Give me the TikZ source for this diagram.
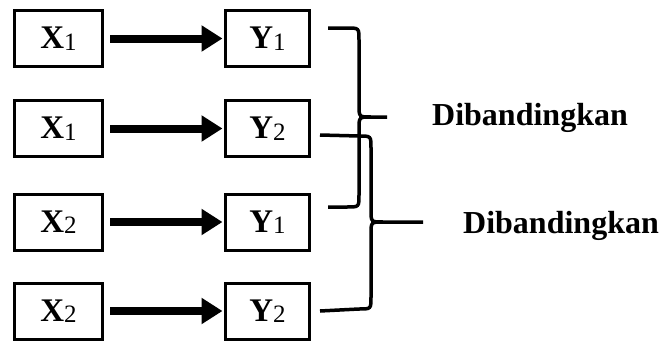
\documentclass[tikz,border=0pt]{standalone}
\usepackage{fontspec}
\setmainfont{Liberation Serif}
\usetikzlibrary{arrows.meta}
\tikzset{
  varbox/.style={draw=black,line width=3pt,inner sep=0pt,minimum height=56pt,font=\fontsize{33}{36}\selectfont\bfseries},
  xbox/.style={varbox,minimum width=88pt},
  ybox/.style={varbox,minimum width=84pt},
  flow/.style={line width=8pt,-{Triangle[length=21pt,width=25pt]},shorten <=6pt,shorten >=1.5pt},
  brace/.style={line width=3.5pt},
  compare/.style={inner sep=0pt,anchor=base west,font=\fontsize{32}{36}\selectfont\bfseries}
}
\newcommand{\Var}[2]{#1\raisebox{-1.5pt}{\fontsize{25}{25}\selectfont\mdseries #2}}

\begin{document}
\begin{tikzpicture}[x=1pt,y=-1pt]
\useasboundingbox (0,0) rectangle (662,343);
% \draw[help lines,step=20] (0,0) grid (662,343);
\node (x1) [xbox] at (58.5,38.5) {\Var{X}{1}};
\node (y1) [ybox] at (267.5,38.5) {\Var{Y}{1}};
\node (x2) [xbox] at (58.5,128.5) {\Var{X}{1}};
\node (y2) [ybox] at (267.5,128.5) {\Var{Y}{2}};
\node (x3) [xbox] at (58.5,222) {\Var{X}{2}};
\node (y3) [ybox] at (267.5,222) {\Var{Y}{1}};
\node (x4) [xbox] at (58.5,311) {\Var{X}{2}};
\node (y4) [ybox] at (267.5,311) {\Var{Y}{2}};
%
\draw[flow] (x1) -- (y1);
\draw[flow] (x2) -- (y2);
\draw[flow] (x3) -- (y3);
\draw[flow] (x4) -- (y4);
%
\node (d1) [compare] at (432,125) {Dibandingkan};
\node (d2) [compare] at (463,233) {Dibandingkan};
%
\coordinate (b1top) at (328,28);
\coordinate (b1tip) at (387,117);
\coordinate (b1bot) at (328,207);
\coordinate (b2top) at (320,135);
\coordinate (b2tip) at (423,222);
\coordinate (b2bot) at (320,311);
\draw[brace] (b1top) -- (347,28) .. controls (359,28) .. (359,40) -- (359,105)
  .. controls (359,117) .. (371,117) -- (b1tip);
\draw[brace] (371,117) .. controls (359,117) .. (359,129) -- (359,195)
  .. controls (359,207) .. (347,207) -- (b1bot);
\draw[brace] (b2top) -- (359,136) .. controls (371,136) .. (371,148) -- (371,210)
  .. controls (371,222) .. (383,222) -- (b2tip);
\draw[brace] (383,222) .. controls (371,222) .. (371,234) -- (371,297)
  .. controls (371,309) .. (359,309) -- (b2bot);
\end{tikzpicture}
\end{document}
